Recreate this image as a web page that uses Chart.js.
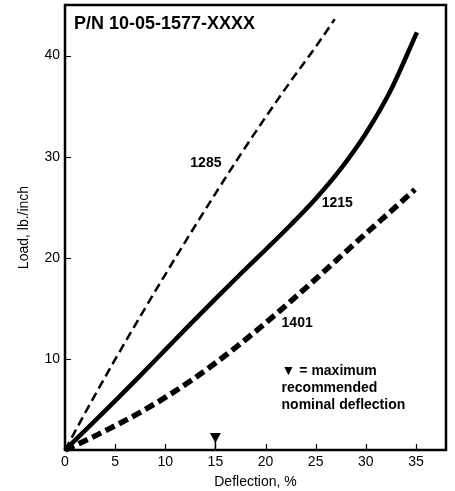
<!DOCTYPE html>
<html>
<head>
<meta charset="utf-8">
<script src="https://cdn.jsdelivr.net/npm/chart.js@4/dist/chart.umd.min.js"></script>
<style>
  html, body { margin: 0; padding: 0; background: #fff; }
  #wrap { width: 455px; height: 491px; }
</style>
</head>
<body>
<div id="wrap"><canvas id="c" width="455" height="491"></canvas></div>
<script>
// Load vs. deflection curves for three gasket materials
const deflection1285 = [0, 2.5, 5, 7.5, 10, 12.5, 15, 17.5, 20, 22.5, 25, 26.9];
const load1285       = [1, 5.55, 9.95, 14.2, 18.35, 22.4, 26.35, 30.2, 33.9, 37.45, 40.85, 43.6];

const deflection1215 = [0, 2.5, 5, 7.5, 10, 12.5, 15, 17.5, 20, 22.5, 25, 27.5, 30, 32.5, 35.1];
const load1215       = [1, 3.4, 5.85, 8.35, 10.9, 13.45, 15.95, 18.4, 20.8, 23.25, 25.85, 28.8, 32.3, 36.6, 42.3];

const deflection1401 = [0, 2.5, 5, 7.5, 10, 12.5, 15, 17.5, 20, 22.5, 25, 27.5, 30, 32.5, 34.9];
const load1401       = [1, 2.15, 3.4, 4.72, 6.2, 7.82, 9.6, 11.52, 13.55, 15.7, 17.9, 20.15, 22.4, 24.6, 26.75];

const xTicks = [0, 5, 10, 15, 20, 25, 30, 35];
const yTicks = [10, 20, 30, 40];

const maxRecommendedDeflection = 15;

const titleText = 'P/N 10-05-1577-XXXX';
const noteLines = ['\u25BC = maximum', 'recommended', 'nominal deflection'];

function pts(xs, ys) { return xs.map((x, i) => ({ x: x, y: ys[i] })); }

const NARROW = '"Liberation Sans Narrow", "Liberation Sans", Arial, sans-serif';
const BOLD = '"Liberation Sans", Arial, sans-serif';

// Series labels, placed in data space next to their curves
const seriesLabels = [
  { text: '1285', x: 12.5, y: 29.35 },
  { text: '1215', x: 25.6, y: 25.4 },
  { text: '1401', x: 21.6, y: 13.55 }
];

const decorations = {
  id: 'decorations',
  afterDatasetsDraw(chart) {
    const { ctx, chartArea: a, scales: { x, y } } = chart;
    ctx.save();

    // inward tick marks
    ctx.strokeStyle = '#000';
    ctx.lineWidth = 1.2;
    ctx.beginPath();
    xTicks.forEach(v => {
      const px = Math.round(x.getPixelForValue(v)) + 0.5;
      ctx.moveTo(px, a.bottom);
      ctx.lineTo(px, a.bottom - 6);
    });
    yTicks.forEach(v => {
      const py = Math.round(y.getPixelForValue(v)) + 0.5;
      ctx.moveTo(a.left, py);
      ctx.lineTo(a.left + 6, py);
    });
    ctx.stroke();

    // frame
    ctx.lineWidth = 2.5;
    ctx.strokeRect(a.left, a.top, a.right - a.left, a.bottom - a.top);

    // maximum recommended deflection marker
    const mx = x.getPixelForValue(maxRecommendedDeflection);
    const tipY = a.bottom - 7;
    ctx.fillStyle = '#000';
    ctx.beginPath();
    ctx.moveTo(mx - 5.5, tipY - 10);
    ctx.lineTo(mx + 5.5, tipY - 10);
    ctx.lineTo(mx, tipY);
    ctx.closePath();
    ctx.fill();
    ctx.lineWidth = 1.5;
    ctx.beginPath();
    ctx.moveTo(mx, tipY - 2);
    ctx.lineTo(mx, a.bottom);
    ctx.stroke();

    // title
    ctx.fillStyle = '#000';
    ctx.textBaseline = 'middle';
    ctx.textAlign = 'left';
    ctx.font = 'bold 18px ' + BOLD;
    ctx.fillText(titleText, a.left + 9, a.top + 19);

    // series labels
    ctx.font = 'bold 14px ' + BOLD;
    seriesLabels.forEach(l => {
      ctx.fillText(l.text, x.getPixelForValue(l.x), y.getPixelForValue(l.y));
    });

    // note
    const nx = x.getPixelForValue(21.6);
    noteLines.forEach((t, i) => {
      ctx.fillText(t, nx, y.getPixelForValue(8.84) + i * 17.3);
    });

    ctx.restore();
  }
};

new Chart(document.getElementById('c'), {
  type: 'scatter',
  data: {
    datasets: [
      {
        label: '1285',
        data: pts(deflection1285, load1285),
        showLine: true,
        borderColor: '#000',
        borderWidth: 2.5,
        borderDash: [9, 5],
        pointRadius: 0,
        cubicInterpolationMode: 'monotone'
      },
      {
        label: '1215',
        data: pts(deflection1215, load1215),
        showLine: true,
        borderColor: '#000',
        borderWidth: 4.5,
        pointRadius: 0,
        cubicInterpolationMode: 'monotone'
      },
      {
        label: '1401',
        data: pts(deflection1401, load1401),
        showLine: true,
        borderColor: '#000',
        borderWidth: 5.5,
        borderDash: [10, 5],
        pointRadius: 0,
        cubicInterpolationMode: 'monotone'
      }
    ]
  },
  options: {
    responsive: false,
    animation: false,
    clip: false,
    layout: { padding: { top: 5, right: 9, left: 0, bottom: 0 } },
    plugins: {
      legend: { display: false },
      tooltip: { enabled: false }
    },
    scales: {
      x: {
        type: 'linear',
        min: 0,
        max: 38,
        afterBuildTicks(s) { s.ticks = xTicks.map(v => ({ value: v })); },
        afterFit(s) { s.height = 41; s.paddingLeft = 0; s.paddingRight = 0; },
        grid: { display: false, drawTicks: false },
        border: { display: false },
        ticks: {
          color: '#000',
          padding: 4,
          font: { family: NARROW, size: 14 }
        },
        title: {
          display: true,
          text: 'Deflection, %',
          color: '#000',
          padding: 0,
          font: { family: NARROW, size: 14 }
        }
      },
      y: {
        type: 'linear',
        min: 1,
        max: 45,
        afterBuildTicks(s) { s.ticks = yTicks.map(v => ({ value: v })); },
        afterFit(s) { s.width = 65; s.paddingTop = 0; s.paddingBottom = 0; },
        grid: { display: false, drawTicks: false },
        border: { display: false },
        ticks: {
          color: '#000',
          padding: 5,
          font: { family: NARROW, size: 14 }
        },
        title: {
          display: true,
          text: 'Load, lb./inch',
          color: '#000',
          padding: { top: 16, bottom: 16 },
          font: { family: NARROW, size: 14 }
        }
      }
    }
  },
  plugins: [decorations]
});
</script>
</body>
</html>
